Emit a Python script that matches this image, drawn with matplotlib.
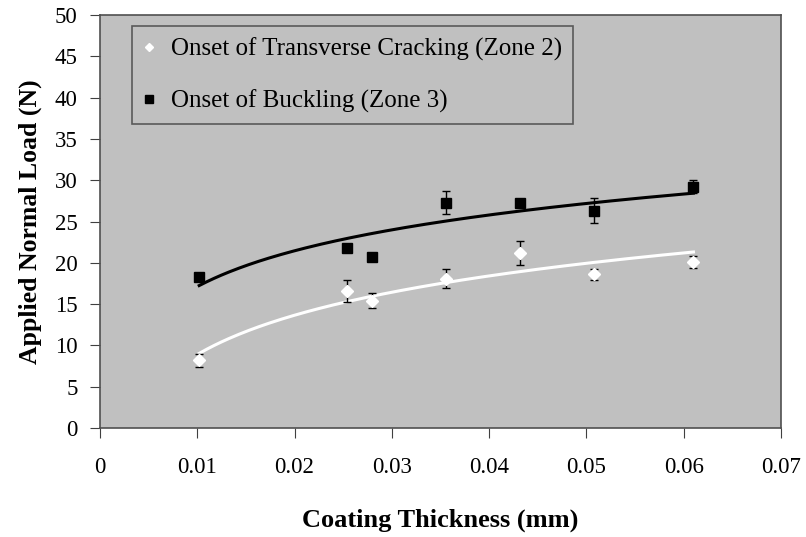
import matplotlib.pyplot as plt
import numpy as np

plt.rcParams['font.family'] = ['Liberation Serif', 'DejaVu Serif']

# coating thickness (mm)
thick = np.array([0.0102, 0.0254, 0.028, 0.0356, 0.0432, 0.0508, 0.061])

# onset of transverse cracking (zone 2)
crack = np.array([8.2, 16.6, 15.4, 18.1, 21.2, 18.6, 20.1])
crack_err = np.array([0.8, 1.3, 0.9, 1.1, 1.5, 0.7, 0.7])

# onset of buckling (zone 3)
buckle = np.array([18.3, 21.8, 20.7, 27.3, 27.2, 26.3, 29.2])
buckle_err = np.array([0.3, 0.4, 0.5, 1.4, 0.3, 1.5, 0.8])

fig = plt.figure(figsize=(8.06, 5.37), dpi=100)
ax = fig.add_axes([0.124, 0.203, 0.845, 0.769])
ax.set_facecolor('#c0c0c0')

# log trend lines (like Excel)
xs = np.linspace(thick.min(), thick.max(), 200)
for y, col in [(crack, 'white'), (buckle, 'black')]:
    a, b = np.polyfit(np.log(thick), y, 1)
    ax.plot(xs, a * np.log(xs) + b, color=col, lw=2.2, zorder=2)

ax.errorbar(thick, crack, yerr=crack_err, fmt='D', color='white', ms=6,
            mec='white', ecolor='black', elinewidth=1, capsize=3,
            label='Onset of Transverse Cracking (Zone 2)', zorder=3)
ax.errorbar(thick, buckle, yerr=buckle_err, fmt='s', color='black', ms=7,
            ecolor='black', elinewidth=1, capsize=3,
            label='Onset of Buckling (Zone 3)', zorder=3)

ax.set_xlim(0, 0.07)
ax.set_ylim(0, 50)
ax.set_xticks(np.arange(0, 0.071, 0.01))
ax.set_xticklabels(['0', '0.01', '0.02', '0.03', '0.04', '0.05', '0.06', '0.07'])
ax.set_yticks(np.arange(0, 51, 5))
ax.tick_params(labelsize=16.5, direction='out', length=7, color='#404040')
ax.tick_params(axis='x', pad=14)
ax.tick_params(axis='y', pad=9)
for s in ax.spines.values():
    s.set_color('#505050')
    s.set_linewidth(1.2)

ax.set_xlabel('Coating Thickness (mm)', fontsize=19, fontweight='bold', labelpad=22)
ax.set_ylabel('Applied Normal Load (N)', fontsize=18.5, fontweight='bold', labelpad=9)

handles, labels = ax.get_legend_handles_labels()
handles = [h[0] for h in handles]
leg = ax.legend(handles, labels, loc='upper left', bbox_to_anchor=(0.047, 0.973),
                borderaxespad=0, fontsize=18, frameon=True, fancybox=False,
                facecolor='#c0c0c0', edgecolor='#404040', handlelength=0.5,
                handletextpad=0.6, labelspacing=1.15, borderpad=0.45,
                markerscale=0.75)
leg.get_frame().set_linewidth(1.2)

fig.savefig('out.png', dpi=100)
